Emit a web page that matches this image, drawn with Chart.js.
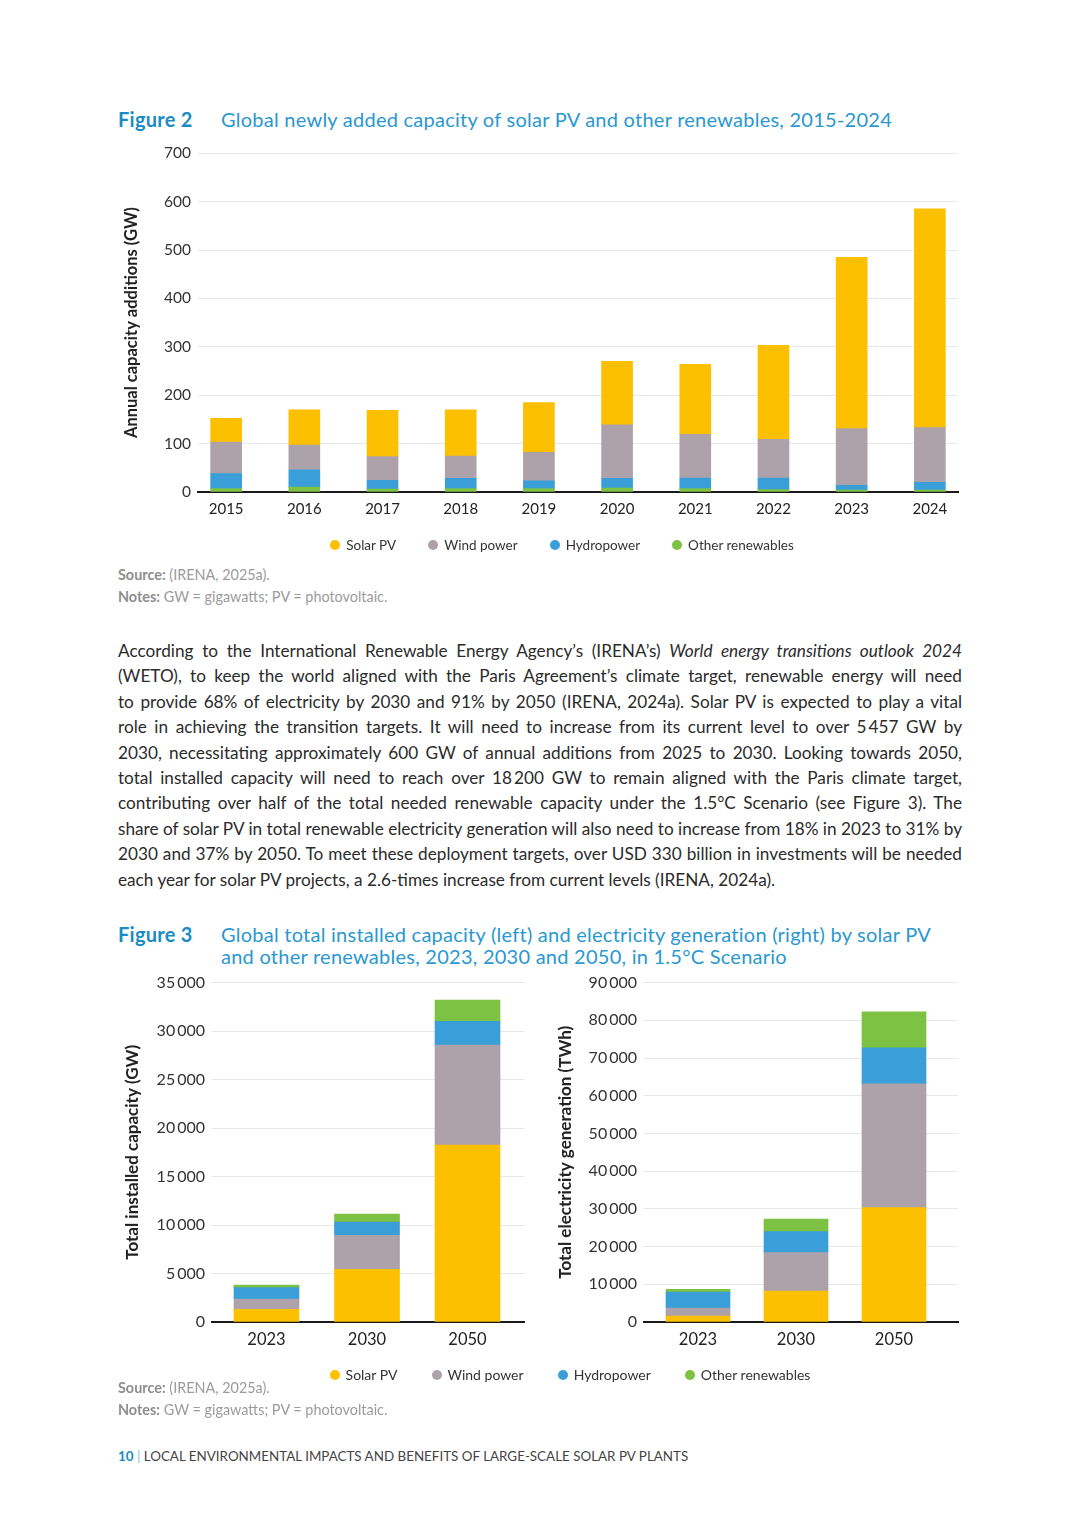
<!DOCTYPE html>
<html>
<head>
<meta charset="utf-8">
<script src="https://cdn.jsdelivr.net/npm/chart.js@4.4.1/dist/chart.umd.min.js"></script>
<style>
body{margin:0;background:#fff;font-family:Lato,"Noto Sans",sans-serif;color:#2b2b2b;}
#page{position:relative;width:1080px;height:1527px;overflow:hidden;}
.abs{position:absolute;}
.figlab{font-weight:bold;color:#1b8cc3;}
.figtitle{font-size:20px;line-height:22px;color:#2a98d0;white-space:nowrap;letter-spacing:0.25px;}
.note{font-size:14.4px;line-height:22px;color:#9b9b9b;white-space:nowrap;}
.note b{color:#8e8e8e;}
.body{left:118px;width:844px;font-size:17.2px;line-height:25.4px;color:#2b2b2b;}
.body div{white-space:nowrap;text-align:justify;text-align-last:justify;}
.body div.last{text-align-last:left;}
.legend{display:flex;justify-content:center;align-items:center;font-size:13.5px;color:#333;line-height:20px;}
.legend span.it{display:flex;align-items:center;margin:0 16px;}
.legend span.dot{width:10px;height:10px;border-radius:50%;margin-right:6px;display:inline-block;}
#leg3{font-size:14px;}
#leg3 span.it{margin:0 17px;}
.foot{font-size:13.4px;line-height:16px;color:#444;white-space:nowrap;}
</style>
</head>
<body>
<div id="page">

<div class="abs figtitle" style="left:118px;top:108px;"><span class="figlab">Figure 2</span></div>
<div class="abs figtitle" style="left:221px;top:108px;">Global newly added capacity of solar PV and other renewables, 2015-2024</div>

<div class="abs" style="left:110px;top:137px;width:860px;height:403px;"><canvas id="fig2"></canvas></div>
<div class="abs legend" id="leg2" style="left:62px;top:535px;width:1000px;"></div>

<div class="abs note" style="left:118px;top:564px;"><b>Source:</b> (IRENA, 2025a).</div>
<div class="abs note" style="left:118px;top:586px;"><b>Notes:</b> GW = gigawatts; PV = photovoltaic.</div>

<div class="abs body" style="top:638px;">
<div>According to the International Renewable Energy Agency’s (IRENA’s) <i>World energy transitions outlook 2024</i></div>
<div>(WETO), to keep the world aligned with the Paris Agreement’s climate target, renewable energy will need</div>
<div>to provide 68% of electricity by 2030 and 91% by 2050 (IRENA, 2024a). Solar PV is expected to play a vital</div>
<div>role in achieving the transition targets. It will need to increase from its current level to over 5&#8201;457 GW by</div>
<div>2030, necessitating approximately 600 GW of annual additions from 2025 to 2030. Looking towards 2050,</div>
<div>total installed capacity will need to reach over 18&#8201;200 GW to remain aligned with the Paris climate target,</div>
<div>contributing over half of the total needed renewable capacity under the 1.5°C Scenario (see Figure 3). The</div>
<div>share of solar PV in total renewable electricity generation will also need to increase from 18% in 2023 to 31% by</div>
<div>2030 and 37% by 2050. To meet these deployment targets, over USD 330 billion in investments will be needed</div>
<div class="last">each year for solar PV projects, a 2.6-times increase from current levels (IRENA, 2024a).</div>
</div>

<div class="abs figtitle" style="left:118px;top:923px;"><span class="figlab">Figure 3</span></div>
<div class="abs figtitle" style="left:221px;top:923px;">Global total installed capacity (left) and electricity generation (right) by solar PV<br>and other renewables, 2023, 2030 and 2050, in 1.5°C Scenario</div>

<div class="abs" style="left:110px;top:966px;width:420px;height:404px;"><canvas id="fig3a"></canvas></div>
<div class="abs" style="left:543px;top:966px;width:427px;height:404px;"><canvas id="fig3b"></canvas></div>
<div class="abs legend" id="leg3" style="left:70px;top:1365px;width:1000px;"></div>

<div class="abs note" style="left:118px;top:1377px;"><b>Source:</b> (IRENA, 2025a).</div>
<div class="abs note" style="left:118px;top:1399px;"><b>Notes:</b> GW = gigawatts; PV = photovoltaic.</div>

<div class="abs foot" style="left:118px;top:1448px;"><b style="color:#1b8cc3;">10</b> <span style="color:#7cc0e3;">|</span> LOCAL ENVIRONMENTAL IMPACTS AND BENEFITS OF LARGE-SCALE SOLAR PV PLANTS</div>

</div>
<script>
// legend order
var seriesNames=['Solar PV','Wind power','Hydropower','Other renewables'];
var seriesColors=['#fdc000','#ada2a9','#3a9fd9','#7dc242'];

// Figure 2 - annual additions (GW)
var years=['2015','2016','2017','2018','2019','2020','2021','2022','2023','2024'];
var solarAdd=[49,73,96,96,103,131,145,194,354,452];
var windAdd=[65,51,49,46,59,111,90,80,117,113];
var hydroAdd=[31,36,18,21,16,20,22,24,10,16];
var otherAdd=[7,10,6,7,7,8,7,5,4,4];
var addTicks=[0,100,200,300,400,500,600,700];

// Figure 3 - 1.5C scenario
var scenYears=['2023','2030','2050'];
var solarCap=[1310,5430,18250];
var windCap=[1065,3500,10310];
var hydroCap=[1170,1375,2440];
var otherCap=[275,825,2200];
var capTicks=[0,5000,10000,15000,20000,25000,30000,35000];

var solarGen=[1600,8220,30330];
var windGen=[2110,10170,32800];
var hydroGen=[4245,5570,9550];
var otherGen=[710,3360,9540];
var genTicks=[0,10000,20000,30000,40000,50000,60000,70000,80000,90000];

Chart.defaults.font.family='Lato';
Chart.defaults.color='#333';

function fmt(n){
	return String(n).replace(/\B(?=(\d{3})+(?!\d))/g,'\u2009');
}

function makeLegend(divid){
	var d=document.getElementById(divid);
	for(var i=0;i<seriesNames.length;i++){
		var it=document.createElement('span');
		it.className='it';
		var dot=document.createElement('span');
		dot.className='dot';
		dot.style.backgroundColor=seriesColors[i];
		it.appendChild(dot);
		it.appendChild(document.createTextNode(seriesNames[i]));
		d.appendChild(it);
	}
}

// series given in legend order, stackOrder = indexes from bottom to top
function stackChart(id,cats,series,stackOrder,ticks,opt){
	var datasets=[];
	for(var k=0;k<stackOrder.length;k++){
		var s=stackOrder[k];
		var pts=[];
		for(var i=0;i<cats.length;i++){
			pts.push({x:i,y:series[s][i]});
		}
		datasets.push({label:seriesNames[s],data:pts,backgroundColor:seriesColors[s],borderWidth:0,barThickness:opt.bar});
	}
	var ctx=document.getElementById(id).getContext('2d');
	return new Chart(ctx,{
		type:'bar',
		data:{datasets:datasets},
		options:{
			responsive:true,
			maintainAspectRatio:false,
			animation:false,
			layout:{padding:{left:0,right:opt.padR,top:opt.padT,bottom:0}},
			plugins:{legend:{display:false},tooltip:{enabled:false}},
			scales:{
				x:{
					type:'linear',
					stacked:true,
					offset:false,
					min:opt.xmin,
					max:opt.xmax,
					afterBuildTicks:function(sc){sc.ticks=cats.map(function(c,i){return {value:i};});},
					afterFit:function(sc){sc.height=48;},
					grid:{display:false},
					border:{color:'#1a1a1a',width:2},
					ticks:{
						padding:0,
						font:{size:opt.xfont},
						color:'#222',
						maxRotation:0,
						callback:function(v){return cats[v];}
					}
				},
				y:{
					stacked:true,
					min:0,
					max:ticks[ticks.length-1],
					afterBuildTicks:function(sc){sc.ticks=ticks.map(function(v){return {value:v};});},
					afterFit:function(sc){sc.width=opt.yw;},
					grid:{color:'#e8e8e8',lineWidth:1,drawTicks:false},
					border:{display:false},
					title:{display:true,text:opt.title,font:{size:opt.tfont,weight:'bold'},color:'#222',padding:{top:12,bottom:0}},
					ticks:{
						padding:7,
						font:{size:opt.yfont},
						color:'#333',
						callback:function(v){return fmt(v);}
					}
				}
			}
		}
	});
}

stackChart('fig2',years,[solarAdd,windAdd,hydroAdd,otherAdd],[3,2,1,0],addTicks,
	{bar:31,padR:12,padT:9,xmin:-0.36,xmax:9.36,yw:88,xfont:15,yfont:15.5,tfont:16.5,title:'Annual capacity additions (GW)'});
stackChart('fig3a',scenYears,[solarCap,windCap,hydroCap,otherCap],[0,1,2,3],capTicks,
	{bar:65,padR:6,padT:8,xmin:-0.542,xmax:2.562,yw:102,xfont:16.5,yfont:16,tfont:17,title:'Total installed capacity (GW)'});
stackChart('fig3b',scenYears,[solarGen,windGen,hydroGen,otherGen],[0,1,2,3],genTicks,
	{bar:64,padR:12,padT:8,xmin:-0.551,xmax:2.653,yw:101,xfont:16.5,yfont:16,tfont:17,title:'Total electricity generation (TWh)'});

makeLegend('leg2');
makeLegend('leg3');

// squeeze any body line that is wider than the column
var lines=document.querySelectorAll('.body div');
for(var i=0;i<lines.length;i++){
	var ls=0;
	while(lines[i].scrollWidth>844 && ls>-1){
		ls-=0.05;
		lines[i].style.letterSpacing=ls+'px';
	}
}
</script>
</body>
</html>
